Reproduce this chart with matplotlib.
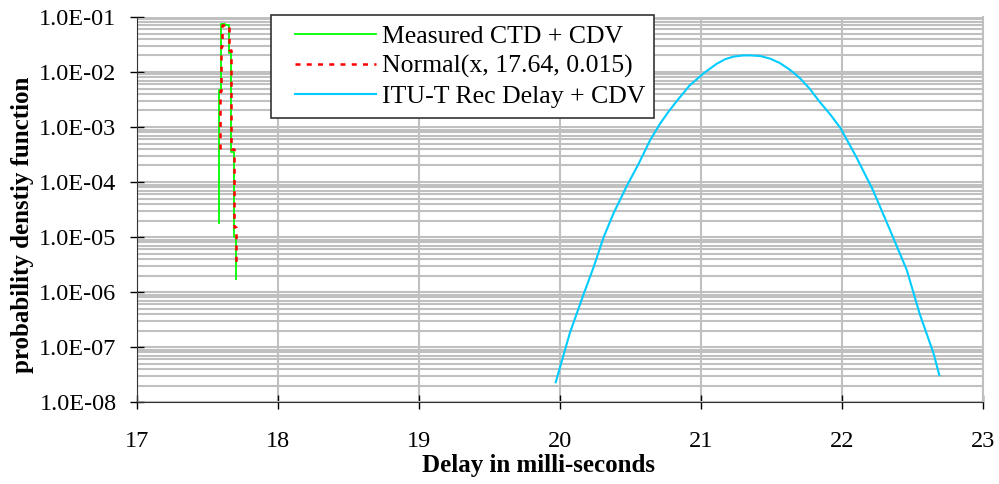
import matplotlib.pyplot as plt
from matplotlib.legend_handler import HandlerLine2D
from matplotlib.ticker import FixedLocator, FuncFormatter, LogLocator, NullFormatter

plt.rcParams["font.family"] = ["Liberation Serif", "DejaVu Serif"]

# measured histogram (step outline)
measured_x = [17.583, 17.583, 17.595, 17.600, 17.625, 17.655, 17.668, 17.687, 17.700]
measured_y = [1.8e-5, 4.7e-3, 3.4e-2, 7.5e-2, 7.0e-2, 2.2e-2, 3.5e-4, 1.0e-5, 1.7e-6]

# normal fit (step outline)
normal_x = [17.586, 17.586, 17.600, 17.606, 17.628, 17.655, 17.668, 17.690, 17.700]
normal_y = [4.0e-4, 4.5e-3, 3.0e-2, 7.0e-2, 6.5e-2, 2.5e-2, 4.0e-4, 1.5e-5, 3.5e-6]

# ITU-T recommended delay + CDV
itu_x = [19.97, 20.07, 20.17, 20.24, 20.31, 20.38, 20.47, 20.56, 20.64, 20.71,
         20.77, 20.83, 20.92, 21.02, 21.11, 21.17, 21.23, 21.30, 21.35, 21.42,
         21.49, 21.56, 21.63, 21.70, 21.77, 21.84, 21.92, 21.99, 22.10, 22.22,
         22.34, 22.46, 22.55, 22.65, 22.69]
itu_y = [2.3e-8, 1.8e-7, 9.5e-7, 2.9e-6, 1.0e-5, 2.7e-5, 8.1e-5, 2.2e-4, 5.8e-4, 1.15e-3,
         1.9e-3, 3.0e-3, 5.7e-3, 9.5e-3, 1.4e-2, 1.7e-2, 1.9e-2, 2.0e-2, 2.0e-2, 1.95e-2,
         1.75e-2, 1.45e-2, 1.1e-2, 7.8e-3, 5.0e-3, 2.9e-3, 1.65e-3, 9.5e-4, 2.9e-4, 7.1e-5,
         1.35e-5, 2.5e-6, 4.1e-7, 7.6e-8, 3.1e-8]

fig = plt.figure(figsize=(9.99, 4.84), dpi=100)
ax = fig.add_axes([0.137, 0.169, 0.847, 0.796])

ax.plot(measured_x, measured_y, color="#00ff00", lw=1.3, drawstyle="steps-post",
        label="Measured CTD + CDV")
ax.plot(normal_x, normal_y, color="#ff0000", lw=1.8, ls=(0, (2, 2.5)),
        drawstyle="steps-post", label="Normal(x, 17.64, 0.015)")
ax.plot(itu_x, itu_y, color="#00ccff", lw=1.5, label="ITU-T Rec Delay + CDV")

ax.set_yscale("log")
ax.set_xlim(17, 23)
ax.set_ylim(1e-8, 1e-1)
ax.xaxis.set_major_locator(FixedLocator(range(17, 24)))
ax.yaxis.set_major_locator(LogLocator(base=10, numticks=20))
ax.yaxis.set_minor_locator(LogLocator(base=10, subs=range(2, 10), numticks=20))
ax.yaxis.set_minor_formatter(NullFormatter())
ax.yaxis.set_major_formatter(FuncFormatter(lambda v, p: "%.1E" % v))

ax.grid(True, which="major", axis="x", color="#c0c0c0", lw=1.5)
ax.grid(True, which="both", axis="y", color="#c0c0c0", lw=1.5)
ax.set_axisbelow(True)

ax.tick_params(axis="both", which="major", direction="inout", length=10, width=1,
               labelsize=17.5, colors="black")
ax.tick_params(axis="x", pad=15.5)
ax.tick_params(axis="y", pad=9.6)
ax.tick_params(axis="y", which="minor", length=0)

ax.spines["top"].set_visible(False)
ax.spines["right"].set_color("#c0c0c0")
ax.spines["right"].set_linewidth(1.5)
ax.spines["left"].set_color("#333333")
ax.spines["bottom"].set_color("#333333")

ax.set_xlabel("Delay in milli-seconds", fontsize=18, fontweight="bold")
ax.xaxis.set_label_coords(0.475, -0.135)
ax.set_ylabel("probability denstiy function", fontsize=18, fontweight="bold")
ax.yaxis.set_label_coords(-0.1215, 0.46)

leg = ax.legend(loc="upper left", bbox_to_anchor=(0.158, 0.5, 0.4534, 0.506),
                mode="expand", fontsize=18.5,
                frameon=True, fancybox=False, edgecolor="#333333", framealpha=1,
                handlelength=3.7, borderpad=0.39, labelspacing=0.28,
                handletextpad=0.23, borderaxespad=0,
                handler_map={plt.Line2D: HandlerLine2D(xpad=0.58)})
leg.get_frame().set_linewidth(1.2)

fig.savefig("out.png", dpi=100)
